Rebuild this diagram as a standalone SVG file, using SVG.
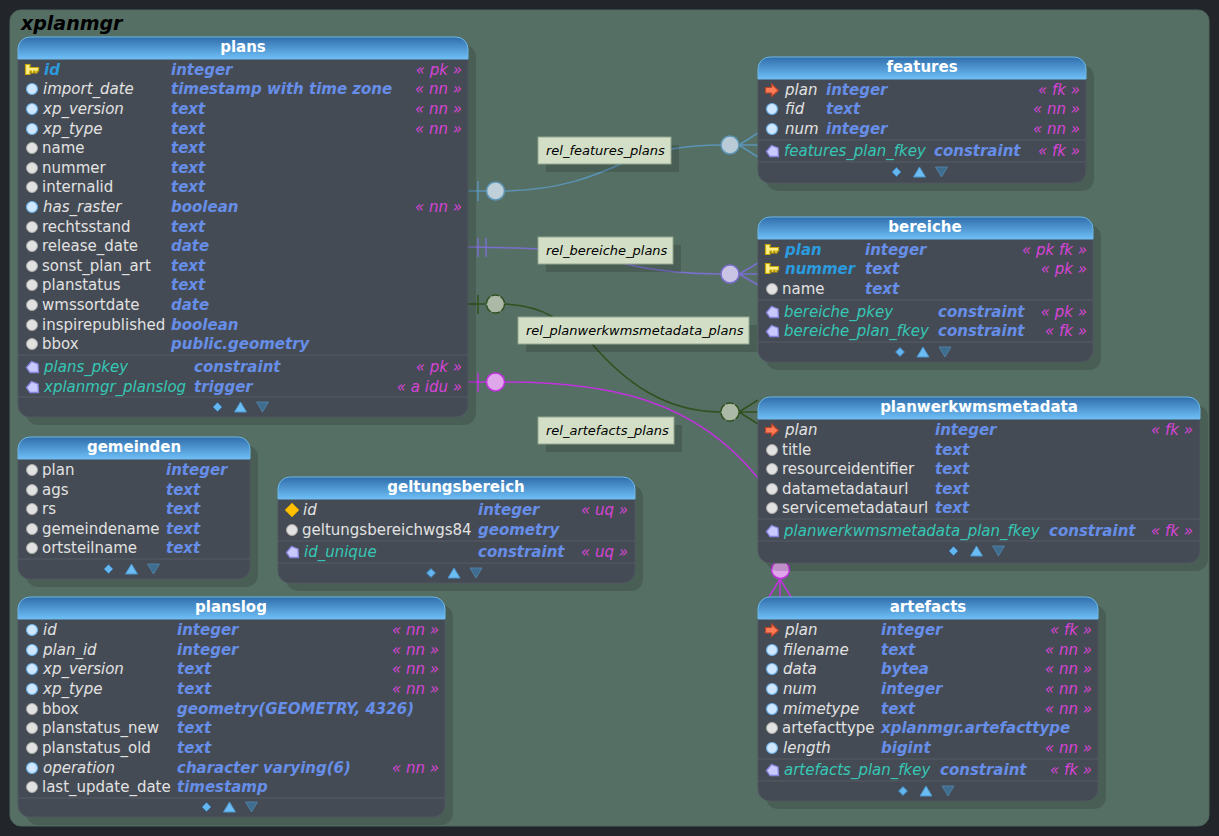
<svg xmlns="http://www.w3.org/2000/svg" width="1219" height="836" viewBox="0 0 1219 836">
<style>
text{font-family:"DejaVu Sans",sans-serif;font-size:15px}
.title{font-size:19px;font-weight:bold;font-style:italic;fill:#000}
.h{font-weight:bold;fill:#fff;text-anchor:middle}
.n{fill:#e2e2e2}
.i{fill:#e2e2e2;font-style:italic}
.k{fill:#2b9bdf;font-style:italic;font-weight:bold}
.c{fill:#35c7b5;font-style:italic}
.t{fill:#668ee8;font-style:italic;font-weight:bold}
.s{fill:#d644d6;font-style:italic;text-anchor:end}
.l{fill:#000;font-style:italic;font-size:13px}
.sh{fill:#000;fill-opacity:.14}
.body{fill:#454b54;stroke:#50565f;stroke-width:1}
.hd{fill:url(#hg);stroke:#6db8e8;stroke-width:1}
.sep{stroke:#565c65;stroke-width:1;fill:none}
.lb{fill:#d2dfc6;stroke:#94a58e;stroke-width:1}
.cn{fill:none;stroke-width:1.5}
</style>
<defs>
<linearGradient id="hg" x1="0" y1="0" x2="0" y2="1"><stop offset="0" stop-color="#2f6dab"/><stop offset="1" stop-color="#6fbff7"/></linearGradient>
<path id="ik" d="M-6.500,-5.500H-2V-2.500H6.500V1H5V3H3V1H1.500V3H-0.500V1H-2V4.500H-6.500Z" fill="#ffee88" stroke="#c9a800" stroke-width="1.200"/>
<circle id="ib" r="5.500" fill="#cfe6ff" stroke="#6aaee6" stroke-width="1.200"/>
<circle id="ig" r="5.500" fill="#e2e2e2" stroke="#a8a8a8" stroke-width="1"/>
<path id="ip" d="M-6,0.500L-1,-5.500L5.500,-3L6,5.500H-2.500Z" fill="#c9c9ff" stroke="#8585dd" stroke-width="1.300"/>
<path id="if" d="M-6.500,-2.500H-0.500V-6L6.500,0.500L-0.500,6.500V3H-6.500Z" fill="#ff7b55" stroke="#b8452a" stroke-width="1.200"/>
<path id="iu" d="M0,-7L7,0L0,7L-7,0Z" fill="#ffc000" stroke="#c99700" stroke-width="1"/>
<g id="ctl">
<path d="M0,-4.500L4.500,0L0,4.500L-4.500,0Z" fill="#65b6ef" stroke="#3d7fb5" stroke-width="1"/>
<path d="M23,-5L29,5H17Z" fill="#6dbdf5" stroke="#4d95cc" stroke-width="1"/>
<path d="M45,5L51,-5H39Z" fill="#3e6d8f" stroke="#4f7fa3" stroke-width="1"/>
</g>
</defs>
<rect width="1219" height="836" fill="#22252a"/>
<rect id="cluster" x="10" y="10" width="1199" height="816" rx="11" fill="#556f64" stroke="#50675c"/>
<text class="title" x="21" y="30">xplanmgr</text>

<g id="connectors">
<g stroke="#5c94b5">
<path class="cn" d="M468,191H486M478,181V201M505,191C560,190 595,176 625,162M671,149C690,146 705,145 721,145M739,145H758M739,145L758,133M739,145L758,157"/>
<circle cx="495.500" cy="191" r="9" fill="#c0d0da" stroke-width="1.500"/>
<circle cx="730" cy="145" r="9" fill="#b9cbd6" stroke-width="1.500"/>
</g>
<g stroke="#7a6fcc">
<path class="cn" d="M468,247C490,247 515,248 540,249M625,264C660,272 690,274 721,274M478,238V257M486,238V257M739,274H758M739,274L758,263M739,274L758,285"/>
<circle cx="730" cy="274" r="9" fill="#c9c3e4" stroke-width="1.500"/>
</g>
<g stroke="#33501f">
<path class="cn" d="M468,304H486M478,295V314M505,304C525,305 540,309 553,317M592,344C625,382 665,412 721,412M739,412H758M739,412L758,400M739,412L758,424"/>
<circle cx="495.500" cy="304" r="9" fill="#acb9a6" stroke-width="1.500" stroke-dasharray="8 1.500"/>
<circle cx="730" cy="412" r="9" fill="#acb9a6" stroke-width="1.500" stroke-dasharray="8 1.500"/>
</g>
<g stroke="#c032dd">
<path class="cn" d="M468,382H486M478,373V392M505,382C610,382 695,400 758,478"/>
<path class="cn" stroke-width="2" d="M780,579L769,597M780,579V597M780,579L791,597"/>
<circle cx="495.500" cy="382" r="9" fill="#e0a6ea" stroke-width="1.500"/>
<circle cx="780.500" cy="569.500" r="9" fill="#e0a6ea" stroke-width="1.500"/>
</g>
</g>

<g id="label-features"><rect class="sh" x="546" y="145" width="133" height="27"/><rect class="lb" x="538" y="137" width="133" height="27"/><text class="l" x="546" y="155">rel_features_plans</text></g>
<g id="label-bereiche"><rect class="sh" x="546" y="245" width="135" height="27"/><rect class="lb" x="538" y="237" width="135" height="27"/><text class="l" x="546" y="255">rel_bereiche_plans</text></g>
<g id="label-planwerk"><rect class="sh" x="526" y="325" width="231" height="27"/><rect class="lb" x="518" y="317" width="231" height="27"/><text class="l" x="526" y="335">rel_planwerkwmsmetadata_plans</text></g>
<g id="label-artefacts"><rect class="sh" x="546" y="425" width="136" height="27"/><rect class="lb" x="538" y="417" width="136" height="27"/><text class="l" x="546" y="435">rel_artefacts_plans</text></g>

<g id="plans">
<rect class="sh" x="26" y="45" width="450" height="380" rx="12"/>
<path class="body" d="M18,59H468V405a12,12 0 0 1 -12,12H30a12,12 0 0 1 -12,-12Z"/>
<path class="hd" d="M18,59V49a12,12 0 0 1 12,-12H456a12,12 0 0 1 12,12V59Z"/>
<text class="h" x="243" y="52">plans</text>
<use href="#ik" x="32" y="70"/><text class="k" x="44" y="75">id</text><text class="t" x="171" y="75">integer</text><text class="s" x="462" y="75">« pk »</text>
<use href="#ib" x="32" y="89"/><text class="i" x="43" y="94">import_date</text><text class="t" x="171" y="94">timestamp with time zone</text><text class="s" x="462" y="94">« nn »</text>
<use href="#ib" x="32" y="109"/><text class="i" x="43" y="114">xp_version</text><text class="t" x="171" y="114">text</text><text class="s" x="462" y="114">« nn »</text>
<use href="#ib" x="32" y="129"/><text class="i" x="43" y="134">xp_type</text><text class="t" x="171" y="134">text</text><text class="s" x="462" y="134">« nn »</text>
<use href="#ig" x="32" y="148"/><text class="n" x="42" y="153">name</text><text class="t" x="171" y="153">text</text>
<use href="#ig" x="32" y="168"/><text class="n" x="42" y="173">nummer</text><text class="t" x="171" y="173">text</text>
<use href="#ig" x="32" y="187"/><text class="n" x="42" y="192">internalid</text><text class="t" x="171" y="192">text</text>
<use href="#ib" x="32" y="207"/><text class="i" x="43" y="212">has_raster</text><text class="t" x="171" y="212">boolean</text><text class="s" x="462" y="212">« nn »</text>
<use href="#ig" x="32" y="227"/><text class="n" x="42" y="232">rechtsstand</text><text class="t" x="171" y="232">text</text>
<use href="#ig" x="32" y="246"/><text class="n" x="42" y="251">release_date</text><text class="t" x="171" y="251">date</text>
<use href="#ig" x="32" y="266"/><text class="n" x="42" y="271">sonst_plan_art</text><text class="t" x="171" y="271">text</text>
<use href="#ig" x="32" y="285"/><text class="n" x="42" y="290">planstatus</text><text class="t" x="171" y="290">text</text>
<use href="#ig" x="32" y="305"/><text class="n" x="42" y="310">wmssortdate</text><text class="t" x="171" y="310">date</text>
<use href="#ig" x="32" y="325"/><text class="n" x="42" y="330">inspirepublished</text><text class="t" x="171" y="330">boolean</text>
<use href="#ig" x="32" y="344"/><text class="n" x="42" y="349">bbox</text><text class="t" x="171" y="349">public.geometry</text>
<path class="sep" d="M18,355H468M18,397H468"/>
<use href="#ip" x="32.500" y="367"/><text class="c" x="44" y="372">plans_pkey</text><text class="t" x="194" y="372">constraint</text><text class="s" x="462" y="372">« pk »</text>
<use href="#ip" x="32.500" y="387"/><text class="c" x="44" y="392">xplanmgr_planslog</text><text class="t" x="194" y="392">trigger</text><text class="s" x="462" y="392">« a idu »</text>
<use href="#ctl" x="217.500" y="407"/>
</g>

<g id="gemeinden">
<rect class="sh" x="26" y="445" width="232" height="142" rx="12"/>
<path class="body" d="M18,459H250V567a12,12 0 0 1 -12,12H30a12,12 0 0 1 -12,-12Z"/>
<path class="hd" d="M18,459V449a12,12 0 0 1 12,-12H238a12,12 0 0 1 12,12V459Z"/>
<text class="h" x="134" y="452">gemeinden</text>
<use href="#ig" x="32" y="470"/><text class="n" x="42" y="475">plan</text><text class="t" x="166" y="475">integer</text>
<use href="#ig" x="32" y="490"/><text class="n" x="42" y="495">ags</text><text class="t" x="166" y="495">text</text>
<use href="#ig" x="32" y="509"/><text class="n" x="42" y="514">rs</text><text class="t" x="166" y="514">text</text>
<use href="#ig" x="32" y="529"/><text class="n" x="42" y="534">gemeindename</text><text class="t" x="166" y="534">text</text>
<use href="#ig" x="32" y="548"/><text class="n" x="42" y="553">ortsteilname</text><text class="t" x="166" y="553">text</text>
<path class="sep" d="M18,559H250"/>
<use href="#ctl" x="108.500" y="569"/>
</g>

<g id="geltungsbereich">
<rect class="sh" x="286" y="485" width="357" height="106" rx="12"/>
<path class="body" d="M278,499H635V571a12,12 0 0 1 -12,12H290a12,12 0 0 1 -12,-12Z"/>
<path class="hd" d="M278,499V489a12,12 0 0 1 12,-12H623a12,12 0 0 1 12,12V499Z"/>
<text class="h" x="456" y="492">geltungsbereich</text>
<use href="#iu" x="292" y="510"/><text class="i" x="303" y="515">id</text><text class="t" x="478" y="515">integer</text><text class="s" x="628" y="515">« uq »</text>
<use href="#ig" x="292" y="530"/><text class="n" x="302" y="535">geltungsbereichwgs84</text><text class="t" x="478" y="535">geometry</text>
<path class="sep" d="M278,541H635M278,563H635"/>
<use href="#ip" x="292.500" y="552"/><text class="c" x="304" y="557">id_unique</text><text class="t" x="478" y="557">constraint</text><text class="s" x="628" y="557">« uq »</text>
<use href="#ctl" x="431" y="573"/>
</g>

<g id="planslog">
<rect class="sh" x="26" y="605" width="427" height="220" rx="12"/>
<path class="body" d="M18,619H445V805a12,12 0 0 1 -12,12H30a12,12 0 0 1 -12,-12Z"/>
<path class="hd" d="M18,619V609a12,12 0 0 1 12,-12H433a12,12 0 0 1 12,12V619Z"/>
<text class="h" x="231" y="612">planslog</text>
<use href="#ib" x="32" y="630"/><text class="i" x="43" y="635">id</text><text class="t" x="177" y="635">integer</text><text class="s" x="439" y="635">« nn »</text>
<use href="#ib" x="32" y="650"/><text class="i" x="43" y="655">plan_id</text><text class="t" x="177" y="655">integer</text><text class="s" x="439" y="655">« nn »</text>
<use href="#ib" x="32" y="669"/><text class="i" x="43" y="674">xp_version</text><text class="t" x="177" y="674">text</text><text class="s" x="439" y="674">« nn »</text>
<use href="#ib" x="32" y="689"/><text class="i" x="43" y="694">xp_type</text><text class="t" x="177" y="694">text</text><text class="s" x="439" y="694">« nn »</text>
<use href="#ig" x="32" y="709"/><text class="n" x="42" y="714">bbox</text><text class="t" x="177" y="714">geometry(GEOMETRY, 4326)</text>
<use href="#ig" x="32" y="728"/><text class="n" x="42" y="733">planstatus_new</text><text class="t" x="177" y="733">text</text>
<use href="#ig" x="32" y="748"/><text class="n" x="42" y="753">planstatus_old</text><text class="t" x="177" y="753">text</text>
<use href="#ib" x="32" y="768"/><text class="i" x="43" y="773">operation</text><text class="t" x="177" y="773">character varying(6)</text><text class="s" x="439" y="773">« nn »</text>
<use href="#ig" x="32" y="787"/><text class="n" x="42" y="792">last_update_date</text><text class="t" x="177" y="792">timestamp</text>
<path class="sep" d="M18,798H445"/>
<use href="#ctl" x="206.500" y="807"/>
</g>

<g id="features">
<rect class="sh" x="766" y="65" width="328" height="126" rx="12"/>
<path class="body" d="M758,79H1086V171a12,12 0 0 1 -12,12H770a12,12 0 0 1 -12,-12Z"/>
<path class="hd" d="M758,79V69a12,12 0 0 1 12,-12H1074a12,12 0 0 1 12,12V79Z"/>
<text class="h" x="922" y="72">features</text>
<use href="#if" x="772" y="90"/><text class="i" x="785" y="95">plan</text><text class="t" x="826" y="95">integer</text><text class="s" x="1080" y="95">« fk »</text>
<use href="#ib" x="772" y="109"/><text class="i" x="785" y="114">fid</text><text class="t" x="826" y="114">text</text><text class="s" x="1080" y="114">« nn »</text>
<use href="#ib" x="772" y="129"/><text class="i" x="785" y="134">num</text><text class="t" x="826" y="134">integer</text><text class="s" x="1080" y="134">« nn »</text>
<path class="sep" d="M758,140H1086M758,162H1086"/>
<use href="#ip" x="772.500" y="151"/><text class="c" x="784" y="156">features_plan_fkey</text><text class="t" x="934" y="156">constraint</text><text class="s" x="1080" y="156">« fk »</text>
<use href="#ctl" x="896.500" y="172"/>
</g>

<g id="bereiche">
<rect class="sh" x="766" y="225" width="335" height="145" rx="12"/>
<path class="body" d="M758,239H1093V350a12,12 0 0 1 -12,12H770a12,12 0 0 1 -12,-12Z"/>
<path class="hd" d="M758,239V229a12,12 0 0 1 12,-12H1081a12,12 0 0 1 12,12V239Z"/>
<text class="h" x="925" y="232">bereiche</text>
<use href="#ik" x="772" y="250"/><text class="k" x="785" y="255">plan</text><text class="t" x="865" y="255">integer</text><text class="s" x="1087" y="255">« pk fk »</text>
<use href="#ik" x="772" y="269"/><text class="k" x="785" y="274">nummer</text><text class="t" x="865" y="274">text</text><text class="s" x="1087" y="274">« pk »</text>
<use href="#ig" x="772" y="289"/><text class="n" x="782" y="294">name</text><text class="t" x="865" y="294">text</text>
<path class="sep" d="M758,300H1093M758,342H1093"/>
<use href="#ip" x="772.500" y="312"/><text class="c" x="784" y="317">bereiche_pkey</text><text class="t" x="938" y="317">constraint</text><text class="s" x="1087" y="317">« pk »</text>
<use href="#ip" x="772.500" y="331"/><text class="c" x="784" y="336">bereiche_plan_fkey</text><text class="t" x="938" y="336">constraint</text><text class="s" x="1087" y="336">« fk »</text>
<use href="#ctl" x="900" y="352"/>
</g>

<g id="planwerkwmsmetadata">
<rect class="sh" x="766" y="405" width="442" height="166" rx="12"/>
<path class="body" d="M758,419H1200V551a12,12 0 0 1 -12,12H770a12,12 0 0 1 -12,-12Z"/>
<path class="hd" d="M758,419V409a12,12 0 0 1 12,-12H1188a12,12 0 0 1 12,12V419Z"/>
<text class="h" x="979" y="412">planwerkwmsmetadata</text>
<use href="#if" x="772" y="430"/><text class="i" x="785" y="435">plan</text><text class="t" x="935" y="435">integer</text><text class="s" x="1193" y="435">« fk »</text>
<use href="#ig" x="772" y="450"/><text class="n" x="782" y="455">title</text><text class="t" x="935" y="455">text</text>
<use href="#ig" x="772" y="469"/><text class="n" x="782" y="474">resourceidentifier</text><text class="t" x="935" y="474">text</text>
<use href="#ig" x="772" y="489"/><text class="n" x="782" y="494">datametadataurl</text><text class="t" x="935" y="494">text</text>
<use href="#ig" x="772" y="508"/><text class="n" x="782" y="513">servicemetadataurl</text><text class="t" x="935" y="513">text</text>
<path class="sep" d="M758,519H1200M758,541H1200"/>
<use href="#ip" x="772.500" y="531"/><text class="c" x="784" y="536">planwerkwmsmetadata_plan_fkey</text><text class="t" x="1049" y="536">constraint</text><text class="s" x="1193" y="536">« fk »</text>
<use href="#ctl" x="953.500" y="551"/>
</g>

<g id="artefacts">
<rect class="sh" x="766" y="605" width="340" height="204" rx="12"/>
<path class="body" d="M758,619H1098V789a12,12 0 0 1 -12,12H770a12,12 0 0 1 -12,-12Z"/>
<path class="hd" d="M758,619V609a12,12 0 0 1 12,-12H1086a12,12 0 0 1 12,12V619Z"/>
<text class="h" x="928" y="612">artefacts</text>
<use href="#if" x="772" y="630"/><text class="i" x="785" y="635">plan</text><text class="t" x="881" y="635">integer</text><text class="s" x="1092" y="635">« fk »</text>
<use href="#ib" x="772" y="650"/><text class="i" x="783" y="655">filename</text><text class="t" x="881" y="655">text</text><text class="s" x="1092" y="655">« nn »</text>
<use href="#ib" x="772" y="669"/><text class="i" x="783" y="674">data</text><text class="t" x="881" y="674">bytea</text><text class="s" x="1092" y="674">« nn »</text>
<use href="#ib" x="772" y="689"/><text class="i" x="783" y="694">num</text><text class="t" x="881" y="694">integer</text><text class="s" x="1092" y="694">« nn »</text>
<use href="#ib" x="772" y="709"/><text class="i" x="783" y="714">mimetype</text><text class="t" x="881" y="714">text</text><text class="s" x="1092" y="714">« nn »</text>
<use href="#ig" x="772" y="728"/><text class="n" x="782" y="733">artefacttype</text><text class="t" x="881" y="733">xplanmgr.artefacttype</text>
<use href="#ib" x="772" y="748"/><text class="i" x="783" y="753">length</text><text class="t" x="881" y="753">bigint</text><text class="s" x="1092" y="753">« nn »</text>
<path class="sep" d="M758,759H1098M758,781H1098"/>
<use href="#ip" x="772.500" y="770"/><text class="c" x="784" y="775">artefacts_plan_fkey</text><text class="t" x="940" y="775">constraint</text><text class="s" x="1092" y="775">« fk »</text>
<use href="#ctl" x="903" y="791"/>
</g>
</svg>
